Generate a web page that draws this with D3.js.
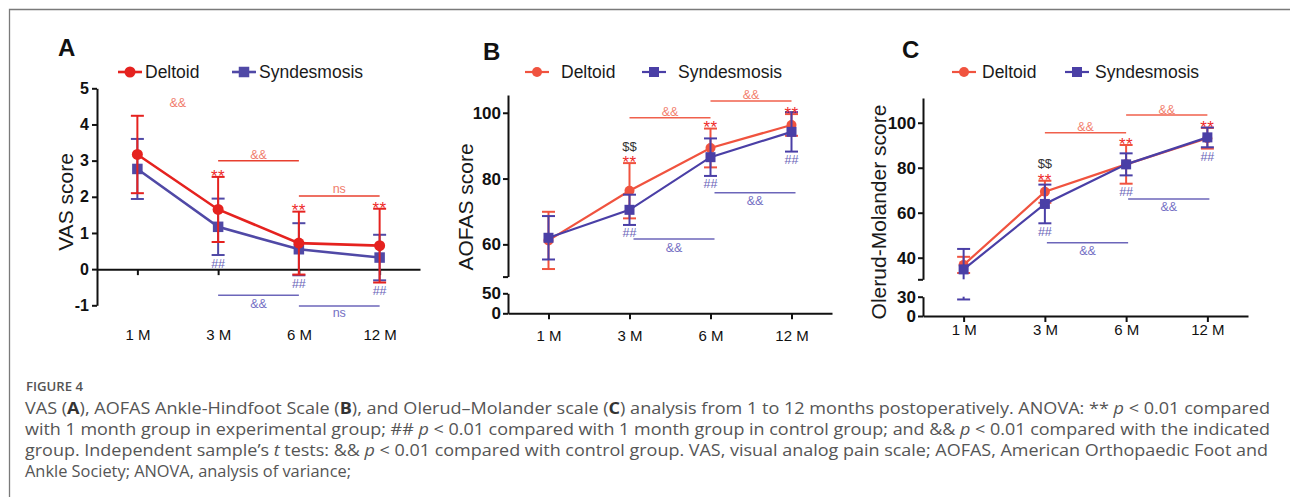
<!DOCTYPE html>
<html>
<head>
<meta charset="utf-8">
<script src="https://cdn.jsdelivr.net/npm/d3@7"></script>
<style>
  body { margin: 0; background: #fff; }
  svg { display: block; font-family: "Liberation Sans", Arial, sans-serif; }
</style>
</head>
<body>
<svg id="fig" width="1290" height="497"></svg>
<script>
// ---- data ----
const months = ["1 M", "3 M", "6 M", "12 M"];

const vasDeltoidMean = [3.17, 1.65, 0.72, 0.65];
const vasDeltoidSD   = [1.07, 0.90, 0.87, 1.02];
const vasSyndMean    = [2.77, 1.17, 0.55, 0.32];
const vasSyndSD      = [0.83, 0.78, 0.72, 0.63];

const aofasDeltoidMean = [61.2, 76.3, 89.3, 96.3];
const aofasDeltoidSD   = [8.7, 8.4, 5.9, 3.3];
const aofasSyndMean    = [62.0, 70.5, 86.5, 94.2];
const aofasSyndSD      = [6.6, 4.6, 5.7, 6.0];

const omsDeltoidMean = [36.8, 69.3, 81.5, 93.1];
const omsDeltoidSD   = [3.6, 4.9, 8.6, 4.6];
const omsSyndMean    = [34.8, 63.9, 81.5, 93.5];
const omsSyndSD      = [9.1, 8.6, 4.9, 4.4];

const vasTicks = [-1, 0, 1, 2, 3, 4, 5];
const aofasTicksUpper = [60, 80, 100];
const aofasTicksLower = [0, 50];
const omsTicksUpper = [40, 60, 80, 100];
const omsTicksLower = [0, 30];

// significance marks
const starMonths = ["3 M", "6 M", "12 M"];
const hashMonths = ["3 M", "6 M", "12 M"];
const dollarMonths = ["3 M"];

// brackets: from, to, level (data units), label, group
const vasBrackets = [
  ["3 M", "6 M", 3.0, "&&", "d"],
  ["6 M", "12 M", 2.02, "ns", "d"],
  ["3 M", "6 M", -0.72, "&&", "s"],
  ["6 M", "12 M", -1.02, "ns", "s"]
];
const aofasBrackets = [
  ["3 M", "6 M", 98.5, "&&", "d"],
  ["6 M", "12 M", 103.6, "&&", "d"],
  ["3 M", "6 M", 61.6, "&&", "s"],
  ["6 M", "12 M", 75.7, "&&", "s"]
];
const omsBrackets = [
  ["3 M", "6 M", 95.6, "&&", "d"],
  ["6 M", "12 M", 103.4, "&&", "d"],
  ["3 M", "6 M", 46.6, "&&", "s"],
  ["6 M", "12 M", 66.1, "&&", "s"]
];

// ---- drawing ----
const svg = d3.select("#fig");

svg.append("path")
  .attr("d", "M9.5,497V9.5H1290")
  .attr("fill", "none")
  .attr("stroke", "#7a7a7a")
  .attr("stroke-width", 1.3);

const panels = [
  {
    letter: "A", letterX: 58, letterY: 56,
    left: 97, right: 420, labelY: 340, tickFont: 16, tickPad: 3,
    title: "VAS score", titleX: 65, titleY: 202,
    up: [-1, 5], upRange: [305.3, 88.3], upTicks: vasTicks, upEndTick: false,
    low: null,
    dMean: vasDeltoidMean, dSD: vasDeltoidSD, sMean: vasSyndMean, sSD: vasSyndSD,
    brackets: vasBrackets, blueShift: 0,
    red: "#e5221f", blue: "#5049a6", lineW: 2.6, rDot: 5.5, sq: 10.5,
    bracketRed: "#e8402f", annoRed: "#f07c6c",
    legend: { redX: 118, blueX: 232, y: 72, gap: 3 },
    drawOrder: ["s", "d"],
    dollars: false, freeAnd: { a: "1 M", b: "3 M", v: 4.6 }
  },
  {
    letter: "B", letterX: 483, letterY: 60,
    left: 508, right: 832, labelY: 341, tickFont: 17, tickPad: 2,
    title: "AOFAS score", titleX: 465, titleY: 207,
    up: [50.2, 105.4], upRange: [276.6, 95], upTicks: aofasTicksUpper, upEndTick: true,
    low: [0, 50], lowRange: [313.3, 293.3], lowTicks: aofasTicksLower,
    dMean: aofasDeltoidMean, dSD: aofasDeltoidSD, sMean: aofasSyndMean, sSD: aofasSyndSD,
    brackets: aofasBrackets, blueShift: 4,
    red: "#f0533f", blue: "#4a3fa6", lineW: 2.2, rDot: 5, sq: 10,
    bracketRed: "#f0604c", annoRed: "#f2806e",
    legend: { redX: 525, blueX: 642, y: 72, gap: 12 },
    drawOrder: ["d", "s"],
    dollars: true, freeAnd: null
  },
  {
    letter: "C", letterX: 902, letterY: 58,
    left: 923, right: 1248, labelY: 335, tickFont: 17, tickPad: 2,
    title: "Olerud-Molander score", titleX: 878, titleY: 212,
    up: [30.4, 111], upRange: [279.3, 98], upTicks: omsTicksUpper, upEndTick: true,
    low: [0, 30], lowRange: [316, 296.7], lowTicks: omsTicksLower,
    dMean: omsDeltoidMean, dSD: omsDeltoidSD, sMean: omsSyndMean, sSD: omsSyndSD,
    brackets: omsBrackets, blueShift: 2,
    red: "#f0533f", blue: "#4a3fa6", lineW: 2.2, rDot: 5, sq: 10,
    bracketRed: "#f0604c", annoRed: "#f2806e",
    legend: { redX: 952, blueX: 1065, y: 72, gap: 6 },
    drawOrder: ["d", "s"],
    dollars: true, freeAnd: null
  }
];

const annoBlue = "#7570c4";
const hashBlue = "#6a64b8";
const starRed = "#ee2b2b";

function drawPanel(p) {
  const g = svg.append("g");
  const x = d3.scalePoint().domain(months).range([p.left, p.right]).padding(0.5);
  const yUp = d3.scaleLinear().domain(p.up).range(p.upRange);
  const yLow = p.low ? d3.scaleLinear().domain(p.low).range(p.lowRange) : null;
  const yPos = v => (!yLow || v >= p.up[0]) ? yUp(v) : yLow(v);
  const baseY = yLow ? yLow(0) : yUp(0);

  // panel letter
  g.append("text")
    .attr("x", p.letterX).attr("y", p.letterY)
    .attr("font-size", 24).attr("font-weight", "bold").attr("fill", "#111")
    .text(p.letter);

  // y axis title
  g.append("text")
    .attr("transform", `translate(${p.titleX},${p.titleY}) rotate(-90)`)
    .attr("text-anchor", "middle").attr("dominant-baseline", "central")
    .attr("font-size", 21).attr("fill", "#1a1a1a")
    .text(p.title);

  // y axis, upper segment
  const upVals = p.upEndTick ? [p.up[0]].concat(p.upTicks) : p.upTicks;
  const axUp = g.append("g")
    .attr("transform", `translate(${p.left},0)`)
    .call(d3.axisLeft(yUp).tickValues(upVals)
      .tickFormat(d => p.upTicks.includes(d) ? String(d) : "")
      .tickSize(5).tickSizeOuter(0).tickPadding(p.tickPad));

  const axes = [axUp];
  if (yLow) {
    axes.push(g.append("g")
      .attr("transform", `translate(${p.left},0)`)
      .call(d3.axisLeft(yLow).tickValues(p.lowTicks).tickFormat(d => String(d))
        .tickSize(5).tickSizeOuter(0).tickPadding(p.tickPad)));
  }

  // x axis line + ticks
  axes.push(g.append("g")
    .attr("transform", `translate(0,${baseY})`)
    .call(d3.axisBottom(x).tickSize(6).tickSizeOuter(0).tickFormat("")));

  axes.forEach(a => {
    a.selectAll("path, line").attr("stroke", "#111").attr("stroke-width", 2);
    a.selectAll("text")
      .attr("font-family", "'Liberation Sans', Arial, sans-serif")
      .attr("font-size", p.tickFont).attr("font-weight", "bold").attr("fill", "#111");
  });

  // x tick labels at the bottom
  const xl = g.append("g")
    .attr("transform", `translate(0,${p.labelY})`)
    .call(d3.axisBottom(x).tickSize(0).tickPadding(0));
  xl.select(".domain").remove();
  xl.selectAll("text")
    .attr("dy", 0)
    .attr("font-family", "'Liberation Sans', Arial, sans-serif")
    .attr("font-size", 15).attr("fill", "#111");

  const series = {
    d: { mean: p.dMean, sd: p.dSD, color: p.red, shape: "circle" },
    s: { mean: p.sMean, sd: p.sSD, color: p.blue, shape: "square" }
  };

  const line = d3.line().x((d, i) => x(months[i])).y(d => yPos(d));

  // whisker, split across the axis break when needed
  function vseg(cx, lo, hi, color) {
    const parts = [];
    if (!yLow) {
      parts.push([yUp(lo), yUp(hi)]);
    } else {
      if (hi > p.up[0]) parts.push([yUp(Math.max(lo, p.up[0])), yUp(hi)]);
      if (lo < p.low[1]) parts.push([yLow(lo), yLow(Math.min(hi, p.low[1]))]);
    }
    parts.forEach(([y1, y2]) => {
      g.append("line").attr("x1", cx).attr("x2", cx).attr("y1", y1).attr("y2", y2)
        .attr("stroke", color).attr("stroke-width", 2);
    });
  }

  function marker(sel, shape, cx, cy, color) {
    if (shape === "circle") {
      sel.append("circle").attr("cx", cx).attr("cy", cy).attr("r", p.rDot).attr("fill", color);
    } else {
      sel.append("rect").attr("x", cx - p.sq / 2).attr("y", cy - p.sq / 2)
        .attr("width", p.sq).attr("height", p.sq).attr("fill", color);
    }
  }

  p.drawOrder.forEach(k => {
    const s = series[k];
    g.append("path").datum(s.mean)
      .attr("d", line).attr("fill", "none")
      .attr("stroke", s.color).attr("stroke-width", p.lineW);
    s.mean.forEach((m, i) => {
      const cx = x(months[i]);
      const lo = m - s.sd[i], hi = m + s.sd[i];
      vseg(cx, lo, hi, s.color);
      [lo, hi].forEach(v => {
        g.append("line").attr("x1", cx - 6.5).attr("x2", cx + 6.5)
          .attr("y1", yPos(v)).attr("y2", yPos(v))
          .attr("stroke", s.color).attr("stroke-width", 2);
      });
      marker(g, s.shape, cx, yPos(m), s.color);
    });
  });

  // significance marks
  const idx = m => months.indexOf(m);
  starMonths.forEach(m => {
    const i = idx(m);
    const cy = yPos(p.dMean[i] + p.dSD[i]) - 5;
    g.append("text").attr("x", x(m)).attr("y", cy + 0.58 * 17)
      .attr("text-anchor", "middle").attr("font-size", 17).attr("letter-spacing", 0.5)
      .attr("fill", starRed).text("**");
    if (p.dollars && dollarMonths.includes(m)) {
      g.append("text").attr("x", x(m)).attr("y", cy - 12 + 0.36 * 13)
        .attr("text-anchor", "middle").attr("font-size", 13).attr("fill", "#333").text("$$");
    }
  });
  hashMonths.forEach(m => {
    const i = idx(m);
    const low = Math.min(p.dMean[i] - p.dSD[i], p.sMean[i] - p.sSD[i]);
    const cy = yPos(low) + 8;
    g.append("text").attr("x", x(m)).attr("y", cy + 0.36 * 12.5)
      .attr("text-anchor", "middle").attr("font-size", 12.5).attr("fill", hashBlue).text("##");
  });

  // brackets
  p.brackets.forEach(([a, b, v, label, grp]) => {
    const isRed = grp === "d";
    const dx = isRed ? 0 : p.blueShift;
    const x1 = x(a) + dx, x2 = x(b) + dx, yy = yPos(v);
    g.append("line").attr("x1", x1).attr("x2", x2).attr("y1", yy).attr("y2", yy)
      .attr("stroke", isRed ? p.bracketRed : "#6c66ba").attr("stroke-width", 1.5);
    const cy = isRed ? yy - 6 : yy + 8;
    const k = label === "ns" ? 0.26 : 0.36;
    g.append("text").attr("x", (x1 + x2) / 2).attr("y", cy + k * 12.5)
      .attr("text-anchor", "middle").attr("font-size", 12.5)
      .attr("fill", isRed ? p.annoRed : annoBlue).text(label);
  });

  if (p.freeAnd) {
    const fx = (x(p.freeAnd.a) + x(p.freeAnd.b)) / 2;
    g.append("text").attr("x", fx).attr("y", yPos(p.freeAnd.v) + 0.36 * 12.5)
      .attr("text-anchor", "middle").attr("font-size", 12.5)
      .attr("fill", p.annoRed).text("&&");
  }

  // legend
  const L = p.legend;
  [["d", L.redX, "Deltoid"], ["s", L.blueX, "Syndesmosis"]].forEach(([k, lx, name]) => {
    const s = series[k];
    g.append("line").attr("x1", lx).attr("x2", lx + 24).attr("y1", L.y).attr("y2", L.y)
      .attr("stroke", s.color).attr("stroke-width", p.lineW);
    marker(g, s.shape, lx + 12, L.y, s.color);
    g.append("text").attr("x", lx + 24 + L.gap).attr("y", L.y + 6)
      .attr("font-size", 17.5).attr("fill", "#1a1a1a").text(name);
  });
}

panels.forEach(drawPanel);

// ---- caption ----
const cap = svg.append("g")
  .attr("font-family", "'Open Sans', 'Noto Sans', sans-serif")
  .attr("fill", "#555");

cap.append("text").attr("x", 26).attr("y", 391)
  .attr("font-size", 13).attr("font-weight", 600)
  .attr("textLength", 57).attr("lengthAdjust", "spacingAndGlyphs")
  .text("FIGURE 4");

const capLines = [
  [["VAS ("], ["A", "b"], ["), AOFAS Ankle-Hindfoot Scale ("], ["B", "b"], ["), and Olerud\u2013Molander scale ("], ["C", "b"], [") analysis from 1 to 12 months postoperatively. ANOVA: ** "], ["p", "i"], [" < 0.01 compared"]],
  [["with 1 month group in experimental group; ## "], ["p", "i"], [" < 0.01 compared with 1 month group in control group; and && "], ["p", "i"], [" < 0.01 compared with the indicated"]],
  [["group. Independent sample\u2019s "], ["t", "i"], [" tests: && "], ["p", "i"], [" < 0.01 compared with control group. VAS, visual analog pain scale; AOFAS, American Orthopaedic Foot and"]],
  [["Ankle Society; ANOVA, analysis of variance;"]]
];
const capWidths = [1245, 1245, 1243, 326];

capLines.forEach((parts, li) => {
  const t = cap.append("text")
    .attr("x", 25).attr("y", 413.5 + li * 21.3)
    .attr("font-size", 16.5)
    .attr("textLength", capWidths[li]).attr("lengthAdjust", "spacingAndGlyphs");
  parts.forEach(([s, st]) => {
    const ts = t.append("tspan").text(s);
    if (st === "b") ts.attr("font-weight", 700).attr("fill", "#333");
    if (st === "i") ts.attr("font-style", "italic");
  });
});
</script>
</body>
</html>
